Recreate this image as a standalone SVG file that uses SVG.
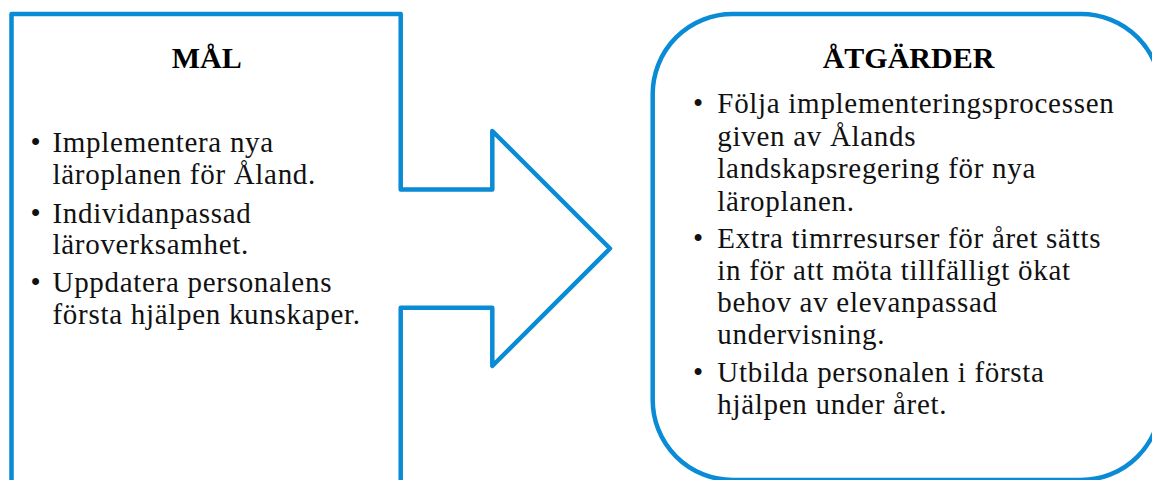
<svg xmlns="http://www.w3.org/2000/svg" width="1152" height="480" viewBox="0 0 1152 480">
  <style>
    .shape { fill: #ffffff; stroke: #0A8BD6; stroke-width: 4.5; stroke-linejoin: round; }
    .title { font-family: "Liberation Serif", "Times New Roman", serif; font-weight: bold; font-size: 30px; fill: #000000; text-anchor: middle; }
    .body { font-family: "Liberation Serif", "Times New Roman", serif; font-size: 29px; letter-spacing: 0.7px; fill: #111111; }
    .bullet { font-family: "Liberation Serif", "Times New Roman", serif; font-size: 29px; fill: #111111; text-anchor: middle; }
  </style>
  <rect x="0" y="0" width="1152" height="480" fill="#ffffff"/>

  <g id="mal">
    <path class="shape" d="M11.5,14 H400.7 V189.5 H492.3 V131 L610,248.5 L492.3,366 V307.7 H400.7 V500 H11.5 Z"/>
    <text class="title" x="206.7" y="68.3">MÅL</text>
    <text class="bullet" x="35.5" y="152">•</text>
    <text class="body" x="52.5" y="152">Implementera nya</text>
    <text class="body" x="52.5" y="183.7">läroplanen för Åland.</text>
    <text class="bullet" x="35.5" y="222.5">•</text>
    <text class="body" x="52.5" y="222.5">Individanpassad</text>
    <text class="body" x="52.5" y="254.2">läroverksamhet.</text>
    <text class="bullet" x="35.5" y="292">•</text>
    <text class="body" x="52.5" y="292">Uppdatera personalens</text>
    <text class="body" x="52.5" y="323.7">första hjälpen kunskaper.</text>
  </g>

  <g id="atgarder">
    <rect class="shape" x="652.7" y="14" width="508.3" height="466" rx="80" ry="80"/>
    <text class="title" x="908.5" y="68.3">ÅTGÄRDER</text>
    <text class="bullet" x="698" y="113.3">•</text>
    <text class="body" x="717.3" y="113.3">Följa implementeringsprocessen</text>
    <text class="body" x="717.3" y="146">given av Ålands</text>
    <text class="body" x="717.3" y="178.3">landskapsregering för nya</text>
    <text class="body" x="717.3" y="210.7">läroplanen.</text>
    <text class="bullet" x="698" y="248.3">•</text>
    <text class="body" x="717.3" y="248.3">Extra timrresurser för året sätts</text>
    <text class="body" x="717.3" y="280.3">in för att möta tillfälligt ökat</text>
    <text class="body" x="717.3" y="312.3">behov av elevanpassad</text>
    <text class="body" x="717.3" y="344.3">undervisning.</text>
    <text class="bullet" x="698" y="382">•</text>
    <text class="body" x="717.3" y="382">Utbilda personalen i första</text>
    <text class="body" x="717.3" y="414">hjälpen under året.</text>
  </g>

  <g id="connectors"></g>
</svg>
